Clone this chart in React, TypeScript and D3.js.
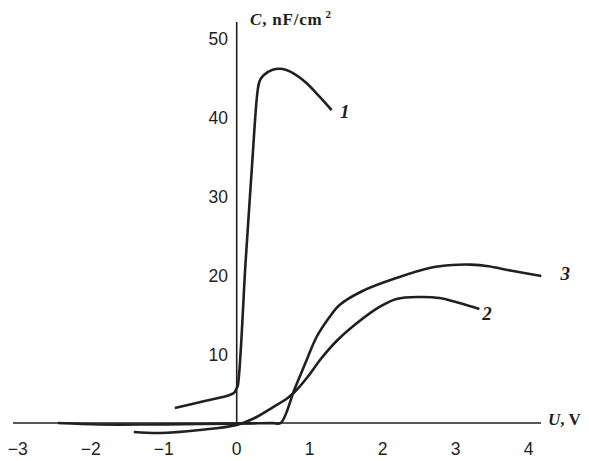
import React from "react";
import * as d3 from "d3";

const xTicks = [-3, -2, -1, 0, 1, 2, 3, 4];
const yTicks = [10, 20, 30, 40, 50];

// curve 1: [U, C]
const curve1U = [-0.848, -0.438, -0.096, -0.027, 0, 0.014, 0.123, 0.205, 0.287, 0.315, 0.369, 0.492, 0.629, 0.766, 0.958, 1.135, 1.30];
const curve1C = [1.89, 2.78, 3.54, 3.91, 4.42, 4.67, 20.5, 31.8, 42.0, 43.2, 43.9, 44.6, 44.7, 44.2, 42.9, 41.2, 39.5];

const curve2U = [-1.409, -1.053, -0.506, 0, 0.246, 0.479, 0.698, 0.793, 0.971, 1.163, 1.382, 1.614, 1.956, 2.189, 2.503, 2.777, 3.051, 3.324];
const curve2C = [-1.14, -1.26, -0.88, -0.25, 0.63, 1.89, 3.16, 3.91, 5.81, 8.21, 10.48, 12.37, 14.65, 15.66, 15.91, 15.78, 15.15, 14.39];

const curve3U = [-2.449, -1.874, -1.19, -0.506, 0, 0.3, 0.5, 0.602, 0.793, 0.958, 1.094, 1.272, 1.409, 1.724, 2.189, 2.64, 2.955, 3.2, 3.45, 3.75, 4.172];
const curve3C = [0, -0.19, -0.19, -0.13, -0.08, -0.04, -0.01, 0, 4.29, 7.95, 10.86, 13.38, 14.9, 16.67, 18.31, 19.57, 19.95, 20.0, 19.8, 19.25, 18.56];

const curveLabels = ["1", "2", "3"];
const labelU = [1.48, 3.43, 4.5];
const labelC = [39.3, 13.8, 18.9];

const W = 589;
const H = 461;
const INK = "#231f20";

export default function App() {
  const x = d3.scaleLinear().domain([-3, 4]).range([17.7, 528.7]);
  const y = d3.scaleLinear().domain([0, 50]).range([423, 27]);

  const line = d3
    .line<[number, number]>()
    .x((d) => x(d[0]))
    .y((d) => y(d[1]))
    .curve(d3.curveCatmullRom.alpha(0.5));

  const zip = (u: number[], c: number[]) => u.map((v, i) => [v, c[i]] as [number, number]);
  const series = [zip(curve1U, curve1C), zip(curve2U, curve2C), zip(curve3U, curve3C)];

  return (
    <svg
      width={W}
      height={H}
      style={{ position: "absolute", left: 0, top: 0, display: "block", background: "#fff" }}
    >
      {/* axes */}
      <line x1={13} x2={541} y1={y(0)} y2={y(0)} stroke={INK} strokeWidth={1.6} />
      <line x1={x(0)} x2={x(0)} y1={22} y2={y(0)} stroke={INK} strokeWidth={1.6} />

      {/* x tick labels */}
      {xTicks.map((t) => (
        <text
          key={"x" + t}
          x={x(t)}
          y={449}
          textAnchor="middle"
          dominantBaseline="central"
          fontFamily="'Liberation Sans', Arial, sans-serif"
          fontSize={17.5}
          fill={INK}
        >
          {t < 0 ? "\u2212" + Math.abs(t) : String(t)}
        </text>
      ))}

      {/* y tick labels */}
      {yTicks.map((t) => (
        <text
          key={"y" + t}
          x={228}
          y={y(t) + 11.5}
          textAnchor="end"
          dominantBaseline="central"
          fontFamily="'Liberation Sans', Arial, sans-serif"
          fontSize={17.5}
          fill={INK}
        >
          {t}
        </text>
      ))}

      {/* axis titles */}
      <text
        x={250}
        y={25}
        fontFamily="'Liberation Serif', 'Times New Roman', serif"
        fontWeight="bold"
        fontSize={17}
        fill={INK}
        letterSpacing={0.8}
      >
        <tspan fontStyle="italic">C</tspan>
        <tspan>, nF/cm</tspan>
        <tspan dx={3} dy={-7} fontSize={11}>2</tspan>
      </text>
      <text
        x={548}
        y={425}
        fontFamily="'Liberation Serif', 'Times New Roman', serif"
        fontWeight="bold"
        fontSize={17}
        fill={INK}
      >
        <tspan fontStyle="italic">U</tspan>
        <tspan>, V</tspan>
      </text>

      {/* curves */}
      {series.map((s, i) => (
        <path
          key={"c" + i}
          d={line(s) || ""}
          fill="none"
          stroke={INK}
          strokeWidth={2.6}
          strokeLinejoin="round"
          strokeLinecap="butt"
        />
      ))}

      {/* curve labels */}
      {curveLabels.map((l, i) => (
        <text
          key={"l" + l}
          x={x(labelU[i])}
          y={y(labelC[i])}
          textAnchor="middle"
          dominantBaseline="central"
          fontFamily="'Liberation Serif', 'Times New Roman', serif"
          fontWeight="bold"
          fontStyle="italic"
          fontSize={19}
          fill={INK}
        >
          {l}
        </text>
      ))}
    </svg>
  );
}
